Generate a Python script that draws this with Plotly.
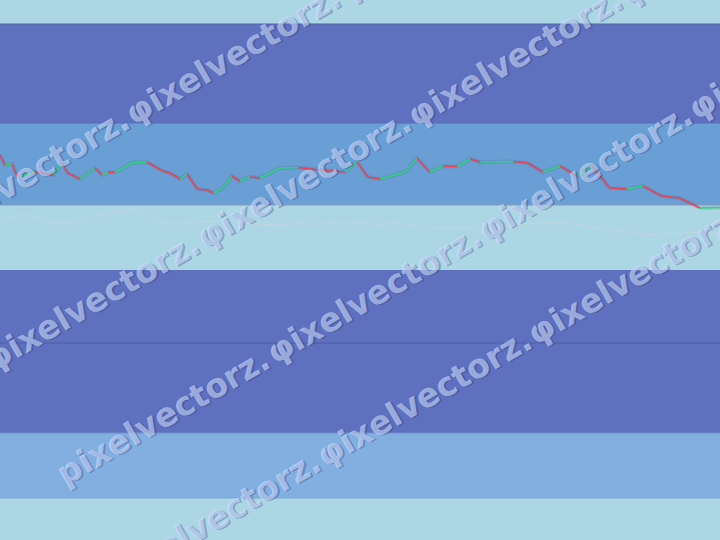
import math
import plotly.graph_objects as go

# ---- main price series (segments coloured by direction) ----
t = [0, 0.7, 1.7, 2.4, 4.9, 7.4, 8.6, 9.4, 11.1, 13.2, 14.2, 15.0, 16.0, 18.3, 20.4,
     22.6, 23.6, 25.0, 26.0, 27.4, 28.8, 29.6, 31.0, 32.2, 33.3, 34.7, 36.1, 38.9,
     41.4, 44.4, 47.9, 49.6, 51.1, 52.8, 56.3, 57.9, 59.7, 61.5, 63.5, 65.3, 66.7,
     71.3, 73.3, 75.4, 77.8, 80.1, 82.2, 84.7, 87.1, 89.3, 91.9, 94.4, 97.2, 100]
price = [38.5, 37.5, 37.6, 36.3, 36.8, 36.5, 37.7, 36.7, 36.1, 37.2, 36.5, 36.8,
         36.75, 37.7, 37.8, 36.9, 36.7, 36.1, 36.6, 35.1, 35.0, 34.7, 35.2, 36.4,
         35.9, 36.3, 36.2, 37.2, 37.25, 37.0, 36.8, 37.8, 36.3, 36.1, 36.8, 38.2,
         36.8, 37.4, 37.35, 38.1, 37.8, 37.85, 37.7, 36.8, 37.4, 36.4, 37.4, 35.2,
         35.1, 35.4, 34.4, 34.2, 33.2, 33.25]

# ---- faint reference series ----
t2 = [0, 1.8, 3.1, 4.6, 6.0, 6.9, 7.6, 8.3, 10.1, 11.5, 13.5, 15.3, 16.7, 18.1, 19.4,
      21.3, 22.6, 24.6, 26.4, 27.8, 33.3, 35.1, 40.3, 41.7, 43.1, 45.8, 47.6, 51.0,
      52.8, 54.6, 57.9, 61.1, 65.7, 66.7, 71.3, 77.4, 80.6, 85.1, 89.9, 94.4, 100]
ref = [32.0, 32.3, 32.5, 32.4, 32.1, 31.7, 31.9, 31.7, 31.8, 32.0, 32.5, 32.7, 32.8,
       33.1, 32.7, 32.2, 31.7, 31.6, 31.7, 31.9, 31.8, 31.6, 31.5, 31.8, 31.5, 31.8,
       31.6, 31.8, 31.4, 31.8, 31.3, 31.2, 31.3, 31.0, 31.5, 31.8, 31.5, 31.0, 30.5,
       30.7, 30.8]

# ---- horizontal zones ----
band_edges = [54.0, 51.6, 41.7, 33.5, 27.0, 10.7, 4.2, 0.0]
band_colors = ["#add6e4", "#5f70be", "#6a9fd6", "#add6e4", "#5f70be", "#83aee0", "#add6e4"]
edge_colors = [None, "#5262ad", "#5a6cb4", "#8a9cb0", None, "#6f92cf", "#7ea6d6", None]
mid_level = 19.7

watermark = "pixelvectorz."

W, H = 720, 540
fig = go.Figure()

for i in range(len(band_edges) - 1):
    fig.add_shape(type="rect", xref="paper", yref="y", x0=0, x1=1,
                  y0=band_edges[i + 1], y1=band_edges[i],
                  fillcolor=band_colors[i], line_width=0, layer="below")
for i, c in enumerate(edge_colors):
    if c:
        fig.add_shape(type="line", xref="paper", yref="y", x0=0, x1=1,
                      y0=band_edges[i], y1=band_edges[i],
                      line=dict(color=c, width=1), layer="below")
fig.add_shape(type="line", xref="paper", yref="y", x0=0, x1=1,
              y0=mid_level, y1=mid_level, line=dict(color="#4c5ca8", width=1),
              layer="below")

# faint reference line
fig.add_trace(go.Scatter(x=t2, y=ref, mode="lines",
                         line=dict(color="rgba(196,212,224,0.8)", width=1.2),
                         hoverinfo="skip", showlegend=False))

# soft glow under the price line
fig.add_trace(go.Scatter(x=t, y=price, mode="lines",
                         line=dict(color="rgba(60,60,120,0.12)", width=4),
                         hoverinfo="skip", showlegend=False))

ux, uy, dx, dy = [], [], [], []
for i in range(len(t) - 1):
    if price[i + 1] >= price[i]:
        ux += [t[i], t[i + 1], None]; uy += [price[i], price[i + 1], None]
    else:
        dx += [t[i], t[i + 1], None]; dy += [price[i], price[i + 1], None]
fig.add_trace(go.Scatter(x=ux, y=uy, mode="lines", line=dict(color="#2bd873", width=1.5),
                         showlegend=False))
fig.add_trace(go.Scatter(x=dx, y=dy, mode="lines", line=dict(color="#e8434f", width=1.5),
                         showlegend=False))

# ---- diagonal watermark ----
theta = math.radians(30)
ct, slope = math.cos(theta), math.tan(theta)
period = 211.0
seg_len = period / ct
fs = 33
rows = [(190, 127 - 3 * period), (355, 198 - 2 * period), (510, 57), (642, 318 - 2 * period)]
for c, start in rows:
    k = 0
    x0 = start
    while x0 < W + 20:
        txt = watermark if k == 0 else "φ" + watermark[1:]
        cx = x0 + seg_len / 2 * ct
        cy = c - slope * cx
        fig.add_annotation(x=cx / W, y=1 - cy / H, xref="paper", yref="paper",
                           text=txt, showarrow=False, textangle=-30,
                           xanchor="center", yanchor="middle",
                           font=dict(family="DejaVu Sans", size=fs, weight="bold",
                                     color="rgba(205,222,255,0.62)",
                                     shadow="1.5px 1.5px 0px rgba(35,50,115,0.5)"))
        k += 1
        x0 += period

fig.update_layout(width=W, height=H, margin=dict(l=0, r=0, t=0, b=0),
                  paper_bgcolor="#add6e4", plot_bgcolor="rgba(0,0,0,0)",
                  xaxis=dict(range=[0, 100], visible=False, fixedrange=True),
                  yaxis=dict(range=[0, 54], visible=False, fixedrange=True),
                  showlegend=False)
fig.write_html("out.html", config={"displayModeBar": False},
               post_script="document.body.style.margin='0';document.body.style.overflow='hidden';")
